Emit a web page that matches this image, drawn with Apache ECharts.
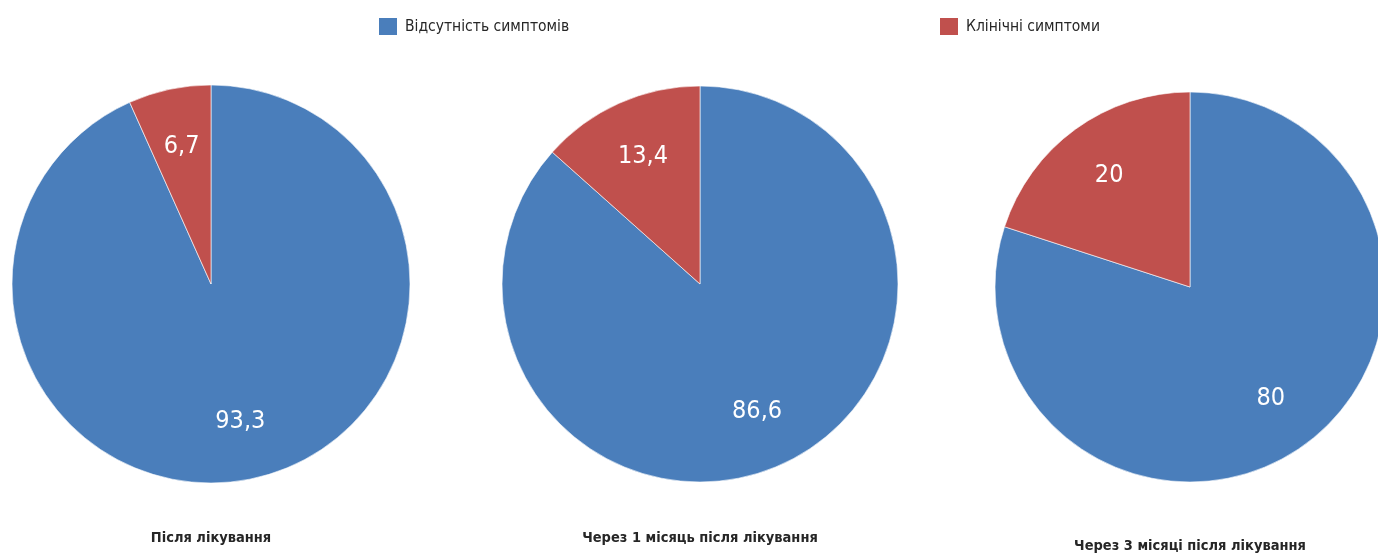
<!DOCTYPE html>
<html>
<head>
<meta charset="utf-8">
<script src="https://cdn.jsdelivr.net/npm/echarts@6/dist/echarts.min.js"></script>
<style>
html,body{margin:0;padding:0;background:#fff;}
#c{width:1378px;height:554px;}
</style>
</head>
<body>
<div id="c"></div>
<script>
const categories = ['Відсутність симптомів', 'Клінічні симптоми'];
const periods = ['Після лікування', 'Через 1 місяць після лікування', 'Через 3 місяці після лікування'];
const noSymptoms = [93.3, 86.6, 80];
const clinical = [6.7, 13.4, 20];
const colors = ['#4A7EBB', '#C0504D'];

const FONT = '"Liberation Sans Narrow", "DejaVu Sans Condensed", "Arial Narrow", sans-serif';
const layout = [
  {cx: 211, cy: 284, r: 199, ty: 538},
  {cx: 700, cy: 284, r: 198, ty: 538},
  {cx: 1190, cy: 287, r: 195, ty: 546}
];

const chart = echarts.init(document.getElementById('c'), null, {renderer: 'canvas'});
const series = [];
const titles = [];
periods.forEach((p, i) => {
  const L = layout[i];
  const data = [
    {name: categories[0], value: noSymptoms[i], itemStyle: {color: colors[0]}},
    {name: categories[1], value: clinical[i], itemStyle: {color: colors[1]}}
  ];
  series.push({
    type: 'pie', center: [L.cx, L.cy], radius: [0, L.r], startAngle: 90, clockwise: true,
    silent: true, animation: false,
    itemStyle: {borderColor: '#ffffff', borderWidth: 0.6},
    label: {show: false}, labelLine: {show: false},
    data: data
  });
  series.push({
    type: 'pie', center: [L.cx, L.cy], radius: [L.r * 0.38, L.r], startAngle: 90, clockwise: true,
    silent: true, animation: false,
    itemStyle: {color: 'rgba(0,0,0,0)'},
    label: {show: true, position: 'inside', color: '#ffffff', fontFamily: FONT, fontSize: 25,
      formatter: (d) => String(d.value).replace('.', ',')},
    labelLine: {show: false},
    data: data.map(d => ({name: d.name, value: d.value, itemStyle: {color: 'rgba(0,0,0,0)'}}))
  });
  titles.push({
    text: p, left: L.cx, top: L.ty - 7, textAlign: 'center', padding: 0,
    textStyle: {fontFamily: FONT, fontWeight: 'bold', fontSize: 14.5, color: '#262626'}
  });
});

chart.setOption({
  backgroundColor: '#ffffff',
  animation: false,
  title: titles,
  legend: [
    {data: [{name: categories[0], itemStyle: {color: colors[0]}}], left: 377, top: 16, padding: 0, itemWidth: 20, itemHeight: 19,
     itemGap: 8, icon: 'rect', selectedMode: false,
     textStyle: {fontFamily: FONT, fontSize: 15.5, color: '#262626', padding: [0, 0, 0, 2]}},
    {data: [{name: categories[1], itemStyle: {color: colors[1]}}], left: 938, top: 16, padding: 0, itemWidth: 20, itemHeight: 19,
     itemGap: 8, icon: 'rect', selectedMode: false,
     textStyle: {fontFamily: FONT, fontSize: 15.5, color: '#262626', padding: [0, 0, 0, 2]}}
  ],
  series: series
});
</script>
</body>
</html>
